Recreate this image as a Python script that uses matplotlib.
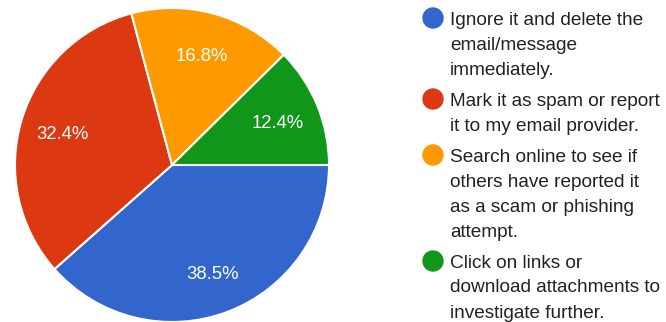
import matplotlib.pyplot as plt
from matplotlib.patches import Circle

plt.rcParams['font.family'] = ['Liberation Sans', 'DejaVu Sans']

# survey answers (percent of respondents)
answers = [
    "Ignore it and delete the\nemail/message\nimmediately.",
    "Mark it as spam or report\nit to my email provider.",
    "Search online to see if\nothers have reported it\nas a scam or phishing\nattempt.",
    "Click on links or\ndownload attachments to\ninvestigate further.",
]
shares = [38.5, 32.4, 16.8, 12.4]
colors = ["#3366CC", "#DC3912", "#FF9900", "#109618"]

W, H = 666, 322
fig = plt.figure(figsize=(W / 100, H / 100), dpi=100)

# pie: centre (172, 165) px, radius 157 px
cx, cy, r = 172, 165, 157
ax = fig.add_axes([(cx - r) / W, (H - cy - r) / H, 2 * r / W, 2 * r / H])
labels = iter(shares)
wedges, _, pcts = ax.pie(
    shares, colors=colors, startangle=0, counterclock=False,
    autopct=lambda p: f"{next(labels):.1f}%", pctdistance=0.73,
    wedgeprops=dict(edgecolor="white", linewidth=1.5),
    textprops=dict(color="white", fontsize=13.3),
)
for t in pcts:
    t.set_va("center_baseline")
ax.set_xlim(-1, 1)
ax.set_ylim(-1, 1)
ax.set_aspect("equal")

# legend drawn in pixel coordinates
leg = fig.add_axes([0, 0, 1, 1])
leg.set_xlim(0, W)
leg.set_ylim(H, 0)
leg.axis("off")

y = 18
for text, col in zip(answers, colors):
    lines = text.split("\n")
    leg.add_patch(Circle((433, y), 10, color=col))
    for i, line in enumerate(lines):
        leg.text(450, y + 25 * i, line, fontsize=13.7, color="#222222",
                 va="center_baseline", ha="left")
    y += 25 * len(lines) + 6

fig.savefig("out.png", dpi=100, facecolor="white")
